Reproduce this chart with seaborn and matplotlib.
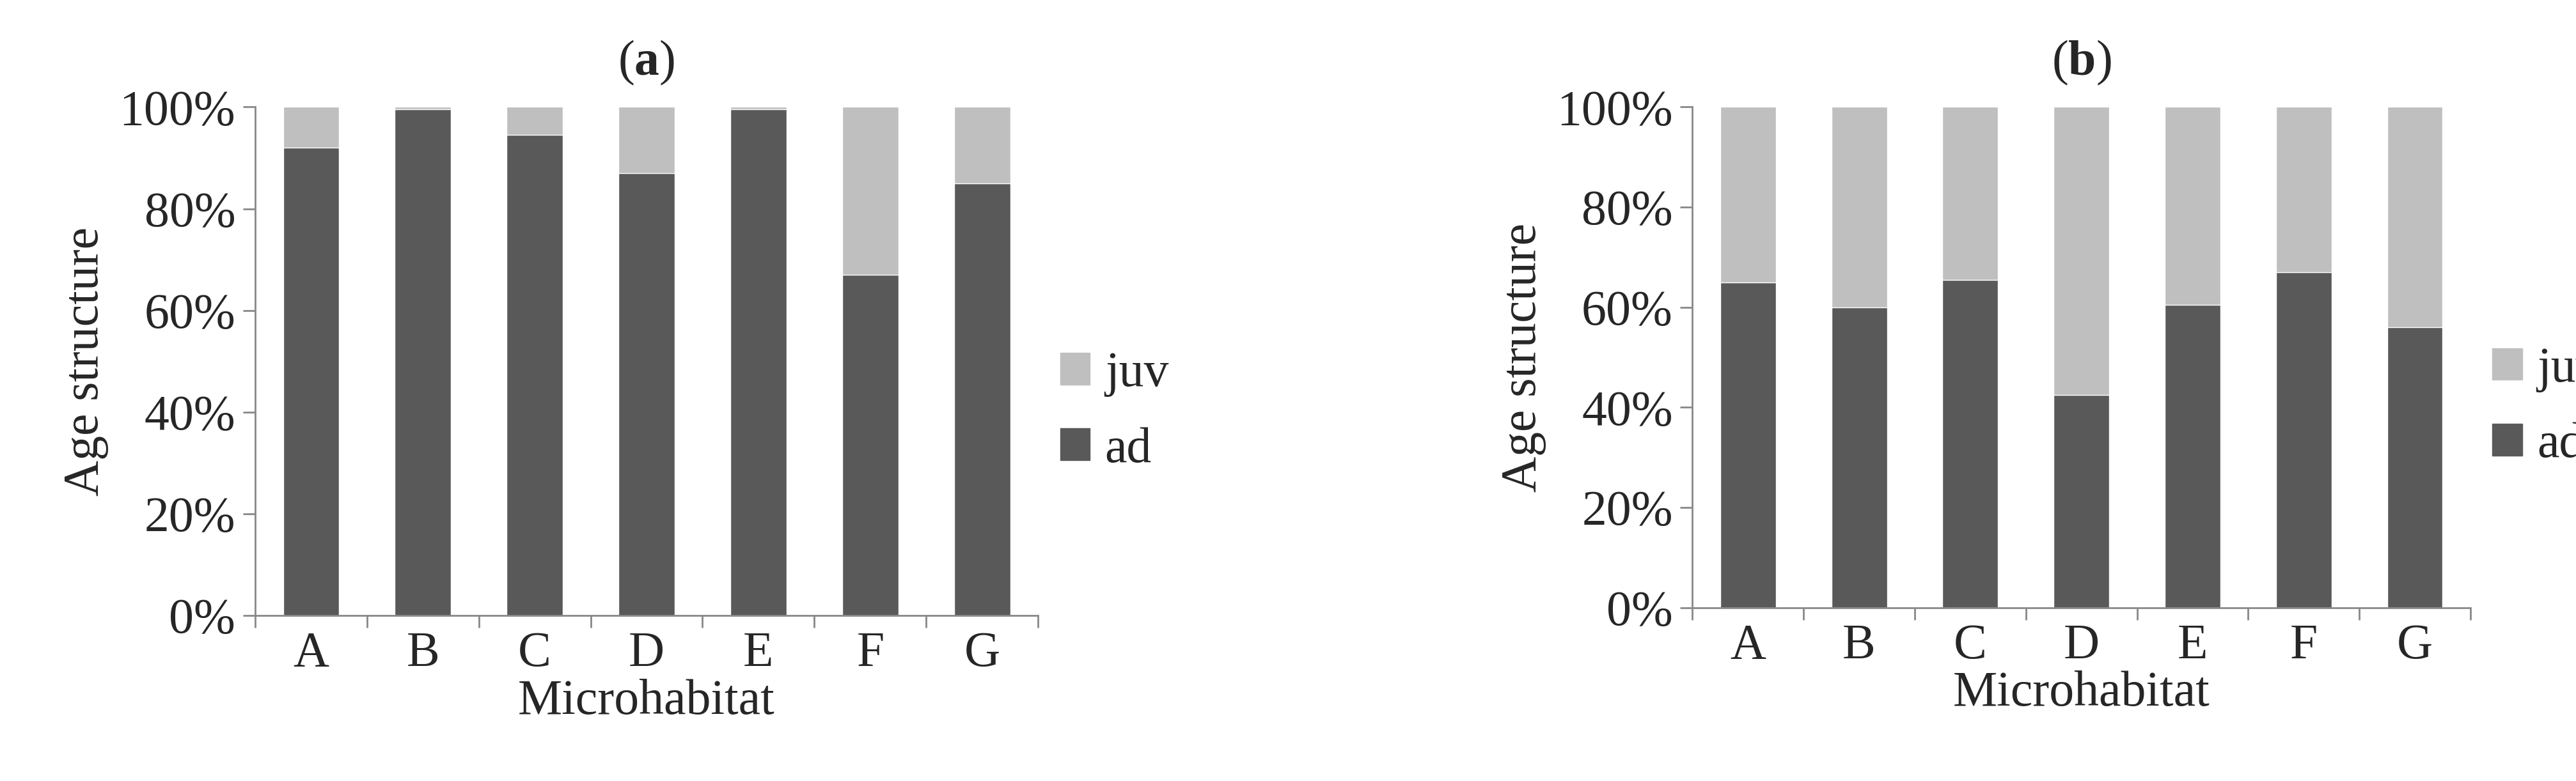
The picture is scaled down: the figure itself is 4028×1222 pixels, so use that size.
import matplotlib
matplotlib.use("Agg")
import matplotlib.pyplot as plt
import seaborn as sns
import numpy as np
import pandas as pd
from matplotlib.patches import Patch
from matplotlib.ticker import FixedLocator, PercentFormatter

categories = ["A", "B", "C", "D", "E", "F", "G"]
ad_a = [92, 99.5, 94.5, 87, 99.5, 67, 85]
ad_b = [65, 60, 65.5, 42.5, 60.5, 67, 56]
titles = ["a", "b"]

sns.set_theme(style="white")
plt.rcParams["font.family"] = ["Liberation Serif", "DejaVu Serif"]
plt.rcParams["mathtext.fontset"] = "custom"
plt.rcParams["mathtext.bf"] = "Liberation Serif:bold"
plt.rcParams["mathtext.rm"] = "Liberation Serif"

fig = plt.figure(figsize=(40.28, 12.22), dpi=100)
positions = [[0.099, 0.212, 0.304, 0.651], [0.657, 0.222, 0.302, 0.641]]
dark = "#595959"
light = "#bfbfbf"
fs = 56
for pos, ad, t in zip(positions, [ad_a, ad_b], titles):
    ax = fig.add_axes(pos)
    df = pd.DataFrame({"cat": categories, "ad": ad, "tot": [100]*7})
    sns.barplot(data=df, x="cat", y="tot", color=light, width=0.5, ax=ax, saturation=1)
    sns.barplot(data=df, x="cat", y="ad", color=dark, width=0.5, ax=ax, saturation=1)
    ax.set_ylim(0, 100)
    ax.set_xlim(-0.5, 6.5)
    ax.set_yticks(range(0, 101, 20))
    ax.yaxis.set_major_formatter(PercentFormatter(decimals=0))
    ax.xaxis.set_minor_locator(FixedLocator(np.arange(-0.5, 7, 1)))
    ax.tick_params(axis="x", which="major", length=0, labelsize=fs, pad=18)
    ax.tick_params(axis="x", which="minor", length=14, width=2, color="#888888", bottom=True)
    ax.tick_params(axis="y", length=14, width=2, color="#888888", left=True, labelsize=fs, pad=8)
    for s in ["top", "right"]:
        ax.spines[s].set_visible(False)
    for s in ["left", "bottom"]:
        ax.spines[s].set_color("#888888")
        ax.spines[s].set_linewidth(2)
    ax.set_ylabel("Age structure", fontsize=fs, labelpad=12)
    ax.set_xlabel("Microhabitat", fontsize=fs, labelpad=2)
    ax.set_title(r"($\mathbf{%s}$)" % t, fontsize=fs, pad=36)
    handles = [Patch(color=light, label="juv"), Patch(color=dark, label="ad")]
    ax.legend(handles=handles, loc="center left", bbox_to_anchor=(0.99, 0.4),
              frameon=False, fontsize=fs, handlelength=0.6, handleheight=0.6,
              labelspacing=0.6, handletextpad=0.3, borderaxespad=0.2)

fig.savefig("out.png", dpi=100, facecolor="white")
